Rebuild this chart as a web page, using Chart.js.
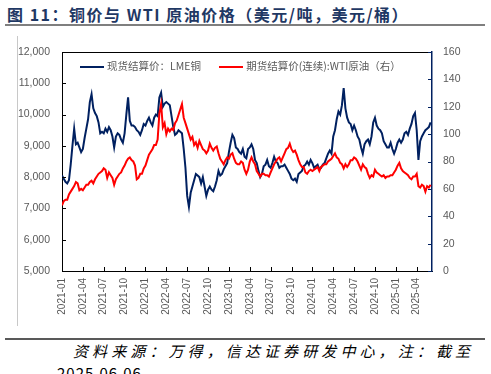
<!DOCTYPE html>
<html>
<head>
<meta charset="utf-8">
<script src="https://cdn.jsdelivr.net/npm/chart.js@4"></script>
<style>
    html, body {
        margin: 0;
        padding: 0;
        width: 491px;
        height: 374px;
        overflow: hidden;
        background: #FFFFFF;
        font-family: "Noto Sans CJK SC", "Liberation Sans", sans-serif;
    }
    #title {
        position: absolute;
        left: 5px;
        top: 3px;
        width: 480px;
        height: 23px;
        border-bottom: 2px solid #7F7F7F;
        color: #1F3864;
        font-weight: bold;
        font-size: 16px;
        line-height: 23px;
        letter-spacing: 1.5px;
        padding-left: 2px;
        box-sizing: border-box;
        white-space: nowrap;
    }
    #sideLine {
        position: absolute;
        left: 17px;
        top: 36px;
        width: 1px;
        height: 290px;
        background: #C8C8C8;
    }
    #chartBox {
        position: absolute;
        left: 0;
        top: 0;
        width: 491px;
        height: 330px;
    }
    #legend {
        position: absolute;
        top: 58px;
        left: 80px;
        font-size: 10.5px;
        color: #595959;
        white-space: nowrap;
        line-height: 16px;
    }
    #legend .sw {
        display: inline-block;
        width: 24px;
        height: 0;
        border-top: 2px solid;
        vertical-align: middle;
        margin-right: 3px;
    }
    #footLine {
        position: absolute;
        left: 5px;
        top: 338px;
        width: 480px;
        height: 0;
        border-top: 2px solid #595959;
    }
    .foot {
        position: absolute;
        font-style: italic;
        font-size: 15px;
        color: #000000;
        white-space: nowrap;
    }
</style>
</head>
<body>

<div id="title">图 11：铜价与 WTI 原油价格（美元/吨，美元/桶）</div>
<div id="sideLine"></div>

<div id="chartBox">
    <canvas id="priceChart" width="491" height="330"></canvas>
</div>

<div id="legend">
    <span class="sw" style="border-color:#002060"></span>现货结算价：LME铜
    <span class="sw" style="border-color:#FF0000; margin-left:16px"></span>期货结算价(连续):WTI原油（右）
</div>

<div id="footLine"></div>
<div class="foot" style="left:73px; top:340px; letter-spacing:4.1px">资料来源：万得，信达证券研发中心，注：截至</div>
<div class="foot" style="left:57px; top:362px; font-style:normal; letter-spacing:1px">2025.06.06</div>

<script>
// ==========================================
// Copper vs WTI - data (4 points per month, from 2021-01)
// ==========================================

const tickLabels = [
    "2021-01", "2021-04", "2021-07", "2021-10",
    "2022-01", "2022-04", "2022-07", "2022-10",
    "2023-01", "2023-04", "2023-07", "2023-10",
    "2024-01", "2024-04", "2024-07", "2024-10",
    "2025-01", "2025-04"
];

// LME copper, USD/t
const copper2021 = [
    8050, 7950, 7850, 7800,   7900, 8400, 9000, 9550,   9050, 9100, 8950, 8800,
    8900, 9250, 9550, 9850,   10400, 10650, 10200, 10050, 9950, 9750, 9400, 9450,
    9400, 9550, 9450, 9600,   9500, 9300, 8950, 9300,   9400, 9350, 9200, 9100,
    9400, 10000, 10550, 9800, 9650, 9650, 9600, 9500,   9450, 9350, 9500, 9700
];
const copper2022 = [
    9650, 9800, 9900, 9750,   9650, 9900, 10000, 9950,  10550, 10700, 10250, 10350,
    10400, 10350, 10300, 9950, 9600, 9350, 9400, 9500,  9450, 9400, 8900, 8300,
    7400, 7050, 7500, 7700,   7900, 8100, 8050, 8000,   7800, 8000, 7700, 7400,
    7600, 7700, 7600, 7550,   7700, 7900, 8200, 8050,   8100, 8250, 8350, 8450
];
const copper2023 = [
    8800, 9100, 9350, 9250,   8950, 8900, 8800, 8750,   8900, 8650, 8600, 8900,
    8950, 9050, 8900, 8550,   8450, 8200, 8000, 8100,   8350, 8400, 8550, 8350,
    8300, 8450, 8650, 8500,   8450, 8300, 8350, 8350,   8400, 8300, 8200, 8100,
    7950, 7900, 7950, 7850,   8100, 8150, 8200, 8350,   8400, 8500, 8400, 8550
];
const copper2024 = [
    8450, 8300, 8350, 8400,   8250, 8300, 8400, 8450,   8600, 8750, 8850, 8750,
    9300, 9500, 9850, 10100,  10000, 10300, 10850, 10200, 9900, 9750, 9700, 9500,
    9650, 9500, 9300, 9200,   8950, 8750, 9050, 9150,   9200, 9050, 9300, 9750,
    9900, 9650, 9550, 9500,   9400, 9150, 9050, 8950,   8950, 9100, 8900, 8750
];
const copper2025 = [
    8900, 9100, 9200, 9100,   9200, 9400, 9450, 9350,   9550, 9700, 9950, 10050,
    9500, 8550, 9150, 9300,   9400, 9500, 9550, 9600,   9750
];

// WTI continuous futures, USD/bbl (right axis)
const oil2021 = [
    48, 51, 52, 52,   56, 58, 60, 62,   65, 64, 59, 60,   59, 61, 63, 63,
    65, 66, 64, 67,   69, 71, 72, 73,   75, 74, 68, 72,   70, 68, 63, 67,
    69, 71, 72, 75,   77, 80, 82, 83,   81, 80, 77, 67,   68, 71, 71, 75
];
const oil2022 = [
    77, 81, 85, 87,   89, 92, 92, 96,   115, 122, 105, 108, 100, 104, 102, 104,
    103, 108, 110, 114, 118, 122, 112, 108, 104, 100, 96, 98, 92, 94, 90, 95,
    92, 89, 88, 86,   88, 93, 90, 88,   90, 91, 86, 82,   80, 78, 81, 83
];
const oil2023 = [
    82, 85, 86, 82,   79, 78, 78, 80,   79, 74, 71, 74,   80, 83, 80, 78,
    73, 71, 69, 71,   71, 70, 70, 69,   72, 75, 78, 80,   82, 83, 80, 83,
    86, 89, 90, 93,   89, 87, 88, 85,   81, 78, 76, 76,   72, 71, 73, 74
];
const oil2024 = [
    73, 74, 75, 76,   73, 76, 77, 78,   78, 80, 81, 82,   84, 86, 83, 82,
    79, 78, 75, 78,   76, 78, 81, 81,   83, 82, 80, 77,   74, 78, 76, 75,
    71, 68, 70, 69,   74, 72, 71, 70,   69, 70, 68, 69,   69, 70, 70, 72
];
const oil2025 = [
    74, 77, 79, 75,   73, 72, 71, 70,   68, 67, 69, 69,   71, 62, 61, 63,
    62, 58, 62, 61,   63
];

const copper = [].concat(copper2021, copper2022, copper2023, copper2024, copper2025);
const oil = [].concat(oil2021, oil2022, oil2023, oil2024, oil2025);

// x = months since 2021-01
const toPoints = (arr) => arr.map((v, i) => ({ x: i / 4, y: v }));

// ==========================================
// Frame + inward tick marks
// ==========================================

const frameTicks = {
    id: "frameTicks",
    afterDraw(chart) {
        const ctx = chart.ctx;
        const a = chart.chartArea;
        const s = chart.scales;

        ctx.save();
        ctx.lineWidth = 1;

        // top edge of the box
        ctx.strokeStyle = "#000000";
        ctx.beginPath();
        ctx.moveTo(a.left, a.top + 0.5);
        ctx.lineTo(a.right, a.top + 0.5);
        ctx.stroke();

        ctx.beginPath();
        s.x.ticks.forEach(t => {
            const px = Math.round(s.x.getPixelForValue(t.value)) + 0.5;
            ctx.moveTo(px, a.bottom);
            ctx.lineTo(px, a.bottom - 4);
        });
        s.y.ticks.forEach(t => {
            const py = Math.round(s.y.getPixelForValue(t.value)) + 0.5;
            ctx.moveTo(a.left, py);
            ctx.lineTo(a.left + 4, py);
        });
        ctx.stroke();

        ctx.strokeStyle = "#002060";
        ctx.beginPath();
        s.y1.ticks.forEach(t => {
            const py = Math.round(s.y1.getPixelForValue(t.value)) + 0.5;
            ctx.moveTo(a.right, py);
            ctx.lineTo(a.right - 4, py);
        });
        ctx.stroke();

        ctx.restore();
    }
};

const tickFont = {
    family: "'Liberation Sans', Arial, sans-serif",
    size: 10.5
};

const priceChart = new Chart(
    document.getElementById("priceChart"),
    {
        type: "line",

        data: {
            datasets: [{
                label: "现货结算价：LME铜",
                data: toPoints(copper),
                borderColor: "#002060",
                borderWidth: 2,
                pointRadius: 0,
                tension: 0,
                yAxisID: "y",
                order: 1
            }, {
                label: "期货结算价(连续):WTI原油（右）",
                data: toPoints(oil),
                borderColor: "#FF0000",
                borderWidth: 2,
                pointRadius: 0,
                tension: 0,
                yAxisID: "y1",
                order: 0
            }]
        },

        options: {
            responsive: false,
            animation: false,
            devicePixelRatio: 1,

            layout: {
                padding: { top: 52, left: 0, right: 0, bottom: 0 }
            },

            plugins: {
                legend: { display: false },
                tooltip: { enabled: false }
            },

            scales: {

                x: {
                    type: "linear",
                    min: 0,
                    max: 53.2,
                    afterBuildTicks: (scale) => {
                        scale.ticks = tickLabels.map((_, i) => ({ value: i * 3 }));
                    },
                    afterFit: (scale) => { scale.height = 59; },
                    ticks: {
                        autoSkip: false,
                        minRotation: 90,
                        maxRotation: 90,
                        padding: 7,
                        color: "#595959",
                        font: { family: tickFont.family, size: 10 },
                        callback: (v) => tickLabels[Math.round(v / 3)]
                    },
                    grid: {
                        display: true,
                        drawOnChartArea: false,
                        drawTicks: false
                    },
                    border: { display: true, color: "#000000", width: 1 }
                },

                y: {
                    position: "left",
                    min: 5000,
                    max: 12000,
                    afterFit: (scale) => { scale.width = 62; },
                    ticks: {
                        stepSize: 1000,
                        padding: 12,
                        color: "#595959",
                        font: tickFont,
                        callback: (v) => v.toLocaleString("en-US")
                    },
                    grid: {
                        display: true,
                        drawOnChartArea: false,
                        drawTicks: false
                    },
                    border: { display: true, color: "#000000", width: 1 }
                },

                y1: {
                    position: "right",
                    min: 0,
                    max: 160,
                    afterFit: (scale) => { scale.width = 59; },
                    ticks: {
                        stepSize: 20,
                        padding: 11,
                        color: "#595959",
                        font: tickFont
                    },
                    grid: {
                        display: true,
                        drawOnChartArea: false,
                        drawTicks: false
                    },
                    border: { display: true, color: "#002060", width: 1.5 }
                }
            }
        },

        plugins: [frameTicks]
    }
);
</script>
</body>
</html>
